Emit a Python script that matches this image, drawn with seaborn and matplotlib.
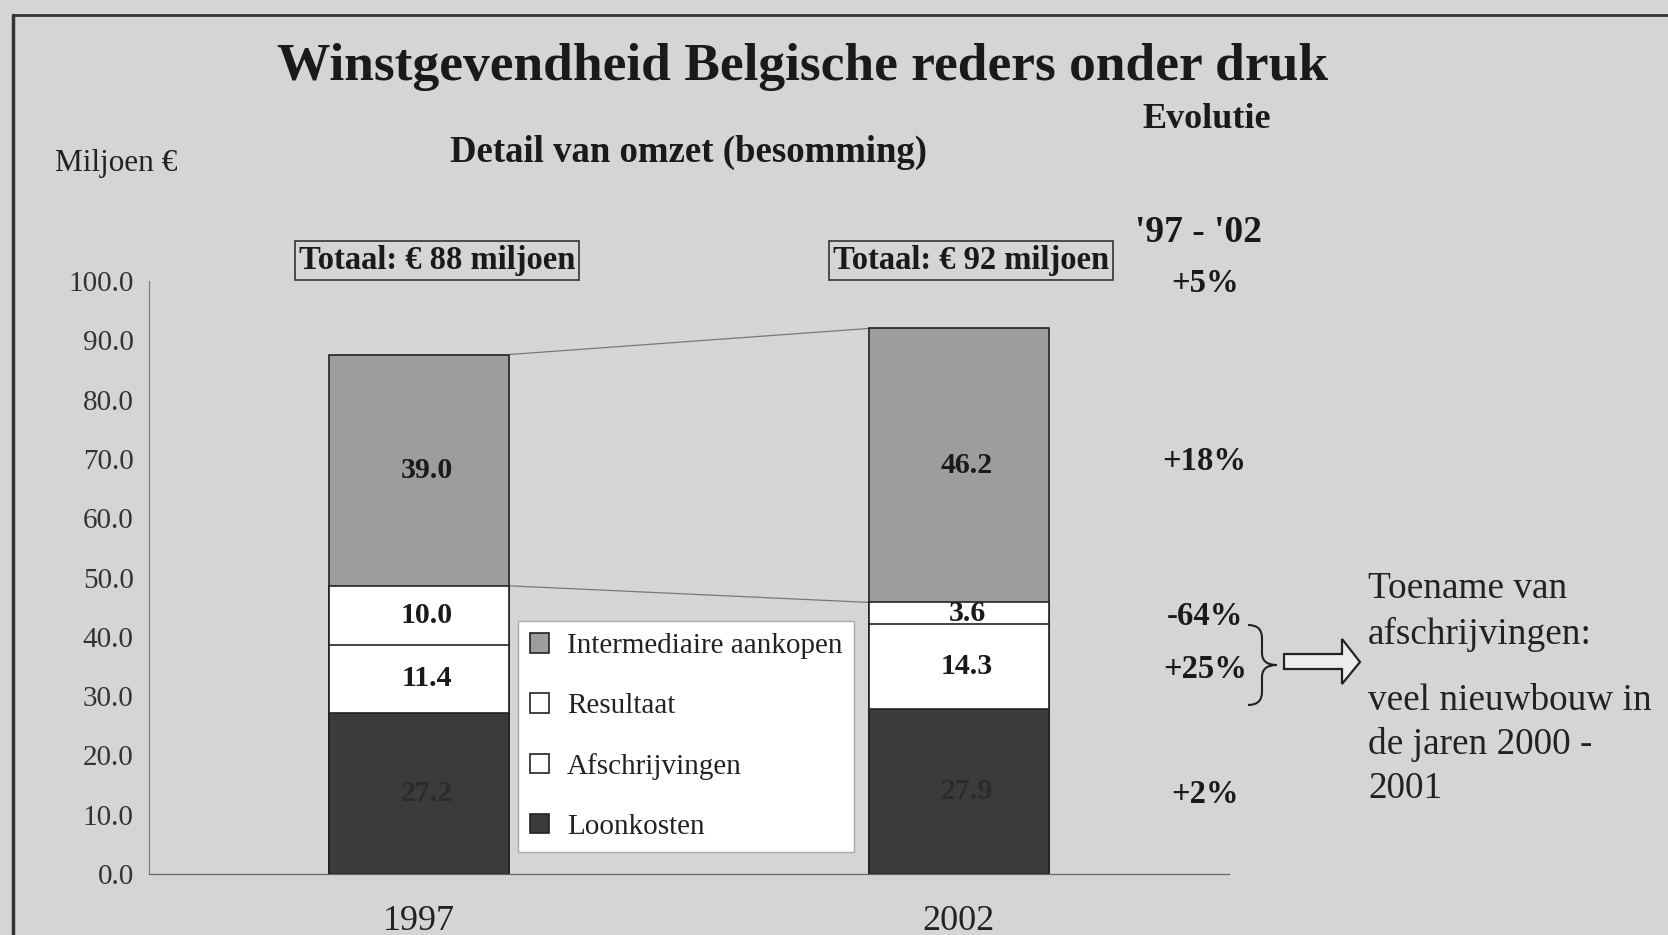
import numpy as np
import pandas as pd
import matplotlib
matplotlib.use('Agg')
import matplotlib.pyplot as plt
from matplotlib.path import Path
import matplotlib.patches as mpatches
from matplotlib.lines import Line2D
import seaborn as sns

# Data (miljoen EUR)
jaren = ['1997', '2002']
loonkosten = [27.2, 27.9]
afschrijvingen = [11.4, 14.3]
resultaat = [10.0, 3.6]
intermediaire = [39.0, 46.2]
evolutie = ['+5%', '+18%', '-64%', '+25%', '+2%']
rubrieken = ['Intermediaire aankopen', 'Resultaat', 'Afschrijvingen', 'Loonkosten']

sns.set_style('white')
plt.rcParams['font.family'] = ['Liberation Serif', 'DejaVu Serif']

achtergrond = '#d5d5d5'
kleuren = {'Intermediaire aankopen': '#9d9d9d', 'Resultaat': 'white',
           'Afschrijvingen': 'white', 'Loonkosten': '#3b3b3b'}

df = pd.DataFrame({'jaar': jaren, 'Loonkosten': loonkosten,
                   'Afschrijvingen': afschrijvingen, 'Resultaat': resultaat,
                   'Intermediaire aankopen': intermediaire})
stapel = ['Loonkosten', 'Afschrijvingen', 'Resultaat', 'Intermediaire aankopen']
cum = df[stapel].cumsum(axis=1)
onder = cum - df[stapel]

fig = plt.figure(figsize=(16.68, 9.35), dpi=100, facecolor=achtergrond)
ax = fig.add_axes([149/1668, 1 - 874/935, (1229 - 149)/1668, (874 - 281)/935])
ax.set_facecolor(achtergrond)

breedte = 0.333
# gestapelde balken: cumulatieve totalen van achter naar voor
for r in stapel[::-1]:
    sns.barplot(x=df['jaar'], y=cum[r], color=kleuren[r], width=breedte,
                edgecolor='#222222', linewidth=1.2, saturation=1, ax=ax, zorder=2)

ax.set_xlim(-0.5, 1.5)
ax.set_ylim(0, 100)
ax.set_yticks(np.arange(0, 101, 10))
ax.set_yticklabels([f'{v:.1f}' for v in np.arange(0, 101, 10)], fontsize=21, color='#333333')
ax.set_xticks([0, 1])
ax.set_xticklabels(jaren, fontsize=26, color='#222222')
ax.set_xticks([0.5], minor=True)
ax.tick_params(axis='x', which='major', length=0, pad=22)
ax.tick_params(axis='x', which='minor', length=6, color='#555555', direction='out')
ax.tick_params(axis='y', length=5, color='#666666', direction='out', pad=6)
ax.set_xlabel('')
ax.set_ylabel('')
for s in ['top', 'right']:
    ax.spines[s].set_visible(False)
ax.spines['left'].set_color('#777777')
ax.spines['left'].set_linewidth(0.8)
ax.spines['bottom'].set_color('#666666')
ax.spines['bottom'].set_linewidth(0.9)

# verbindingslijnen tussen de balken
for r in ['Intermediaire aankopen', 'Resultaat']:
    ax.plot([0 + breedte/2, 1 - breedte/2], [cum[r][0], cum[r][1]],
            color='#777777', lw=0.9, zorder=1)

# waarden in de balken
for i in range(len(jaren)):
    for r in stapel:
        midden = onder[r][i] + df[r][i] / 2
        kleur = '#2b2b2b' if r == 'Loonkosten' else '#1a1a1a'
        ax.text(i + 0.015, midden, f'{df[r][i]:.1f}', ha='center', va='center',
                fontsize=21.5, fontweight='bold', color=kleur, zorder=3)

# totalen boven de balken
totaal = cum['Intermediaire aankopen']
for i, x in enumerate([0.033, 1.022]):
    ax.text(x, 103.4, f'Totaal: € {totaal[i]:.0f} miljoen', ha='center', va='center',
            fontsize=23.5, fontweight='bold', color='#1a1a1a', clip_on=False,
            bbox=dict(boxstyle='square,pad=0.12', fc=achtergrond, ec='#333333', lw=1.2))

# evolutie '97 - '02
ev_y = [100] + [onder[r][1] + df[r][1] / 2 for r in ['Intermediaire aankopen', 'Resultaat',
                                                     'Afschrijvingen', 'Loonkosten']]
ev_y[1] = 70
for lab, y in zip(evolutie, ev_y):
    ax.text(1.455, y - 0.5, lab, ha='center', va='center', fontsize=23.5,
            fontweight='bold', color='#1a1a1a', clip_on=False)

# legenda
handles = [mpatches.Patch(facecolor=kleuren[r], edgecolor='#222222', lw=1.2) for r in rubrieken]
leg = ax.legend(handles, rubrieken, loc='upper left',
                bbox_to_anchor=(518/1668, 1 - 621/935), bbox_transform=fig.transFigure,
                fontsize=21, frameon=True, fancybox=False, framealpha=1,
                handlelength=0.65, handleheight=0.65, handletextpad=0.6,
                labelspacing=1.16, borderpad=0.42, borderaxespad=0)
leg.get_frame().set_edgecolor('#aaaaaa')
leg.get_frame().set_linewidth(1)
leg.set_zorder(5)
for t in leg.get_texts():
    t.set_color('#222222')

# overlay in pixelcoordinaten voor tekst en figuren
ov = fig.add_axes([0, 0, 1, 1], zorder=10)
ov.set_xlim(0, 1668)
ov.set_ylim(935, 0)
ov.axis('off')

ov.text(803, 67, 'Winstgevendheid Belgische reders onder druk', ha='center', va='center',
        fontsize=38.5, fontweight='bold', color='#1a1a1a')
ov.text(1207, 119, 'Evolutie', ha='center', va='center', fontsize=26,
        fontweight='bold', color='#1a1a1a')
ov.text(689, 152, 'Detail van omzet (besomming)', ha='center', va='center',
        fontsize=26.5, fontweight='bold', color='#1a1a1a')
ov.text(55, 163, 'Miljoen €', ha='left', va='center', fontsize=22.5, color='#222222')
ov.text(1199, 233, "'97 - '02", ha='center', va='center', fontsize=27,
        fontweight='bold', color='#1a1a1a')

toelichting = [('Toename van', 589), ('afschrijvingen:', 634), ('veel nieuwbouw in', 701),
               ('de jaren 2000 -', 745), ('2001', 789)]
for t, y in toelichting:
    ov.text(1368, y, t, ha='left', va='center', fontsize=26.8, color='#222222')

# accolade
x0, x1, x2 = 1248, 1262, 1277
verts = [(x0, 625), (x1, 625), (x1, 638), (x1, 653), (x1, 665), (x2, 665),
         (x1, 665), (x1, 677), (x1, 692), (x1, 705), (x0, 705)]
codes = [Path.MOVETO, Path.CURVE3, Path.CURVE3, Path.LINETO, Path.CURVE3, Path.CURVE3,
         Path.CURVE3, Path.CURVE3, Path.LINETO, Path.CURVE3, Path.CURVE3]
ov.add_patch(mpatches.PathPatch(Path(verts, codes), fc='none', ec='#222222', lw=1.5))

# holle pijl
pijl = [(1284, 654), (1342, 654), (1342, 639), (1360, 662), (1342, 684),
        (1342, 669), (1284, 669)]
ov.add_patch(mpatches.Polygon(pijl, closed=True, fc='#ececec', ec='#222222', lw=1.6))

# kader van de scan
fig.add_artist(Line2D([13/1668, 1], [1 - 15/935, 1 - 15/935], transform=fig.transFigure,
                      color='#333333', lw=2))
fig.add_artist(Line2D([13/1668, 13/1668], [0, 1 - 15/935], transform=fig.transFigure,
                      color='#333333', lw=2.5))

fig.savefig('out.png', dpi=100, facecolor=achtergrond)
